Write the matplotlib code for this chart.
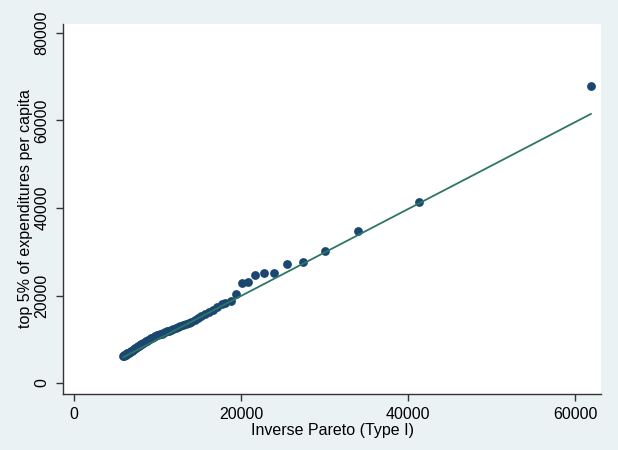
import matplotlib.pyplot as plt

plt.rcParams["font.family"] = ["Liberation Sans", "DejaVu Sans"]

# quantiles: inverse Pareto (Type I) vs observed top 5% expenditures
pareto_q = [
    5900, 5950, 6000, 6050, 6100, 6180, 6250, 6320, 6400, 6480,
    6560, 6650, 6740, 6830, 6920, 7020, 7120, 7220, 7330, 7440,
    7550, 7670, 7790, 7910, 8040, 8170, 8300, 8440, 8580, 8730,
    8880, 9040, 9200, 9370, 9540, 9720, 9900, 10090, 10290, 10490,
    10700, 10920, 11150, 11390, 11640, 11900, 12170, 12450, 12740, 13050,
    13370, 13710, 14060, 14430, 14820, 15230, 15660, 16110, 16590, 17100,
    17690, 18080, 18800, 19370, 20080, 20800, 21680, 22720, 23950, 25550,
    27390, 30060, 34010, 41320, 61920,
]
observed = [
    6150, 6200, 6300, 6350, 6420, 6500, 6580, 6650, 6750, 6850,
    6950, 7060, 7170, 7280, 7400, 7520, 7650, 7780, 7920, 8060,
    8200, 8350, 8500, 8650, 8820, 8980, 9150, 9330, 9500, 9680,
    9860, 10040, 10220, 10400, 10560, 10720, 10880, 11020, 11160, 11300,
    11460, 11640, 11820, 12000, 12180, 12360, 12560, 12750, 12960, 13180,
    13420, 13700, 14020, 14400, 14800, 15250, 15750, 16300, 16700, 17300,
    18060, 18350, 18810, 20270, 22930, 23090, 24690, 25070, 25070, 27130,
    27660, 30170, 34740, 41370, 67890,
]
fit_x = [5900, 61900]
fit_y = [5900, 61500]

fig = plt.figure(figsize=(6.18, 4.5), dpi=100, facecolor="#EAF2F3")
ax = fig.add_axes([0.102, 0.1244, 0.8705, 0.8223])
ax.set_facecolor("white")

ax.scatter(pareto_q, observed, s=40, color="#1A476F", zorder=2, linewidths=0)
ax.plot(fit_x, fit_y, color="#2F7566", linewidth=1.3, zorder=3)

ax.set_xlim(-1317, 63114)
ax.set_ylim(-2514, 82057)
ax.set_xticks([0, 20000, 40000, 60000])
ax.set_yticks([0, 20000, 40000, 60000, 80000])
ax.set_yticklabels(["0", "20000", "40000", "60000", "80000"], rotation=90, va="center")

for side in ["top", "right"]:
    ax.spines[side].set_visible(False)
for side in ["left", "bottom"]:
    ax.spines[side].set_color("#333333")
    ax.spines[side].set_linewidth(1.0)
ax.tick_params(axis="both", colors="#333333", length=5, width=1.0, labelsize=11.5,
               labelcolor="black")
ax.tick_params(axis="x", pad=4)
ax.tick_params(axis="y", pad=5)

ax.set_xlabel("Inverse Pareto (Type I)", fontsize=11.5, labelpad=1)
ax.set_ylabel("top 5% of expenditures per capita", fontsize=11.5, labelpad=1)

fig.savefig("out.png", dpi=100, facecolor=fig.get_facecolor())
